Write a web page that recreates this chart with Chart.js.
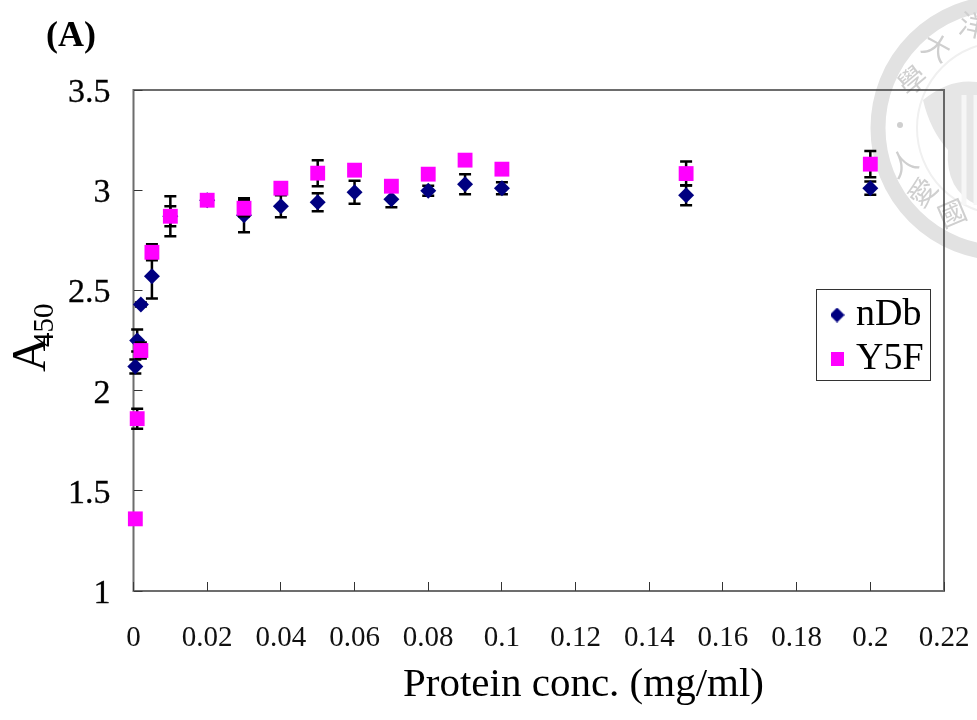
<!DOCTYPE html>
<html lang="en">
<head>
  <meta charset="UTF-8">
  <title>Protein conc. vs A450</title>
  <script src="https://cdn.jsdelivr.net/npm/chart.js"></script>
  <style>
    html, body { margin: 0; padding: 0; background: #fff; }
    canvas { display: block; }
  </style>
</head>
<body>
  <canvas id="chart" width="977" height="720"></canvas>
  <script>
    // values
    const xTicks = [0, 0.02, 0.04, 0.06, 0.08, 0.1, 0.12, 0.14, 0.16, 0.18, 0.2, 0.22];
    const yTicks = [1, 1.5, 2, 2.5, 3, 3.5];
    const conc = [0.0005, 0.001, 0.002, 0.005, 0.01, 0.02, 0.03, 0.04, 0.05, 0.06, 0.07, 0.08, 0.09, 0.1, 0.15, 0.2];
    const nDb = [2.12, 2.25, 2.43, 2.57, 2.87, 2.95, 2.875, 2.92, 2.94, 2.99, 2.955, 2.997, 3.03, 3.01, 2.975, 3.01];
    const nDbErr = [0.035, 0.055, 0.01, 0.11, 0.1, 0.01, 0.085, 0.055, 0.045, 0.057, 0.04, 0.025, 0.05, 0.03, 0.05, 0.033];
    const y5f = [1.36, 1.86, 2.2, 2.69, 2.87, 2.95, 2.91, 3.01, 3.085, 3.1, 3.02, 3.08, 3.15, 3.105, 3.083, 3.13];
    const y5fErr = [0.01, 0.05, 0.04, 0.04, 0.05, 0.01, 0.04, 0.01, 0.065, 0.01, 0.01, 0.01, 0.01, 0.01, 0.06, 0.065];

    const serif = '"Liberation Serif", serif';
    const toPoints = (xs, ys) => xs.map((x, i) => ({ x: x, y: ys[i] }));

    // legend diamond is smaller than chart.js would make it
    const legendDiamond = document.createElement('canvas');
    legendDiamond.width = legendDiamond.height = 15;
    const ld = legendDiamond.getContext('2d');
    ld.fillStyle = '#000080';
    ld.beginPath();
    ld.moveTo(7.5, 0); ld.lineTo(15, 7.5); ld.lineTo(7.5, 15); ld.lineTo(0, 7.5);
    ld.fill();

    // faint university seal behind the chart
    const sealPlugin = {
      id: 'seal',
      beforeDraw(chart) {
        const ctx = chart.ctx;
        const cx = 1003, cy = 128;
        ctx.save();
        ctx.fillStyle = '#fff';
        ctx.fillRect(0, 0, chart.width, chart.height);
        ctx.strokeStyle = '#e2e2e2';
        ctx.lineWidth = 15;
        ctx.beginPath(); ctx.arc(cx, cy, 125, 0, Math.PI * 2); ctx.stroke();
        ctx.strokeStyle = '#f0f0f0';
        ctx.lineWidth = 2;
        ctx.beginPath(); ctx.arc(cx, cy, 86, 0, Math.PI * 2); ctx.stroke();
        ctx.fillStyle = '#e6e6e6';
        ctx.beginPath();
        ctx.moveTo(923, 100);
        ctx.quadraticCurveTo(950, 78, 977, 82);
        ctx.lineTo(977, 205);
        ctx.quadraticCurveTo(945, 190, 948, 150);
        ctx.quadraticCurveTo(930, 130, 923, 100);
        ctx.fill();
        ctx.strokeStyle = '#f6f6f6';
        ctx.lineWidth = 5;
        [964, 976].forEach(x => {
          ctx.beginPath(); ctx.moveTo(x, 95); ctx.lineTo(x, 205); ctx.stroke();
        });
        ctx.fillStyle = '#cfcfcf';
        ctx.beginPath(); ctx.arc(900, 125, 3, 0, Math.PI * 2); ctx.fill();
        ctx.font = '28px "Noto Sans CJK TC"';
        ctx.textAlign = 'center';
        ctx.textBaseline = 'middle';
        [['大', 937, 47, 0.5], ['學', 912, 80, -0.7], ['人', 903, 163, -0.5],
         ['愛', 922, 192, -0.9], ['國', 952, 213, -0.4], ['洋', 973, 25, 0.2]].forEach(c => {
          ctx.save();
          ctx.translate(c[1], c[2]);
          ctx.rotate(c[3]);
          ctx.fillText(c[0], 0, 0);
          ctx.restore();
        });
        ctx.restore();
      }
    };

    // frame, error bars, axis names with their odd placing, panel letter
    const extrasPlugin = {
      id: 'extras',
      afterLayout(chart) {
        const lg = chart.legend;
        lg.left = 831; lg.right = 977; lg.top = 290; lg.bottom = 600;
        lg.width = 146; lg.height = 310;
      },
      beforeDatasetsDraw(chart) {
        const ctx = chart.ctx, a = chart.chartArea;
        ctx.save();
        ctx.strokeStyle = 'rgba(60,60,60,0.75)';
        ctx.lineWidth = 2;
        ctx.strokeRect(a.left, a.top, a.right - a.left, a.bottom - a.top);
        ctx.strokeStyle = '#333';
        ctx.lineWidth = 1;
        ctx.strokeRect(816.5, 289.5, 114, 91);
        ctx.restore();
      },
      beforeDatasetDraw(chart, args) {
        const ds = chart.data.datasets[args.index];
        const ctx = chart.ctx, sx = chart.scales.x, sy = chart.scales.y;
        ctx.save();
        ctx.strokeStyle = '#000';
        ctx.lineWidth = 2.5;
        ds.errors.forEach((e, i) => {
          const x = sx.getPixelForValue(conc[i]);
          const top = sy.getPixelForValue(ds.data[i].y + e);
          const bottom = sy.getPixelForValue(ds.data[i].y - e);
          ctx.beginPath();
          ctx.moveTo(x, top); ctx.lineTo(x, bottom);
          ctx.moveTo(x - 6, top); ctx.lineTo(x + 6, top);
          ctx.moveTo(x - 6, bottom); ctx.lineTo(x + 6, bottom);
          ctx.stroke();
        });
        ctx.restore();
      },
      afterDraw(chart) {
        const ctx = chart.ctx;
        ctx.save();
        ctx.fillStyle = '#000';
        ctx.textBaseline = 'alphabetic';
        ctx.font = 'bold 36px ' + serif;
        ctx.fillText('(A)', 46, 46);
        ctx.font = '41px ' + serif;
        ctx.fillText('Protein conc. (mg/ml)', 403, 696);
        ctx.translate(45, 372);
        ctx.rotate(-Math.PI / 2);
        ctx.font = '48px ' + serif;
        ctx.fillText('A', 0, 0);
        ctx.font = '29px ' + serif;
        ctx.fillText('450', 25, 8);
        ctx.restore();
      }
    };

    new Chart(document.getElementById('chart'), {
      type: 'scatter',
      data: {
        datasets: [
          {
            label: 'nDb',
            data: toPoints(conc, nDb),
            errors: nDbErr,
            pointStyle: 'rectRot',
            pointRadius: 8,
            backgroundColor: '#000080',
            borderWidth: 0,
            clip: false,
            order: 2
          },
          {
            label: 'Y5F',
            data: toPoints(conc, y5f),
            errors: y5fErr,
            pointStyle: 'rect',
            pointRadius: 10.5,
            backgroundColor: '#ff00ff',
            borderWidth: 0,
            clip: false,
            order: 1
          }
        ]
      },
      options: {
        responsive: false,
        animation: false,
        layout: { padding: { top: 90, right: 33, left: 0, bottom: 0 } },
        scales: {
          x: {
            type: 'linear',
            min: 0,
            max: 0.22,
            afterBuildTicks(axis) { axis.ticks = xTicks.map(v => ({ value: v })); },
            afterFit(axis) { axis.height = 129; axis.paddingLeft = 0; axis.paddingRight = 0; },
            grid: { drawOnChartArea: false, tickLength: -9, color: '#333', lineWidth: 1 },
            border: { display: false },
            ticks: {
              padding: 39,
              maxRotation: 0,
              autoSkip: false,
              color: '#111',
              font: { family: serif, size: 29 },
              callback: v => String(v)
            }
          },
          y: {
            min: 1,
            max: 3.5,
            afterBuildTicks(axis) { axis.ticks = yTicks.map(v => ({ value: v })); },
            afterFit(axis) {
              axis.width = 133.5; axis.paddingTop = 0; axis.paddingBottom = 0;
              // labels sit a little below their tick in the original
              if (axis.labelsShifted) return;
              axis.labelsShifted = true;
              const computeItems = axis._computeLabelItems;
              axis._computeLabelItems = function (area) {
                const items = computeItems.call(axis, area);
                items.forEach(it => { it.options.translation[1] += 3; });
                return items;
              };
            },
            grid: { drawOnChartArea: false, tickLength: -9, color: '#333', lineWidth: 1 },
            border: { display: false },
            ticks: {
              padding: 32,
              autoSkip: false,
              color: '#000',
              textStrokeColor: '#000',
              textStrokeWidth: 0.3,
              font: { family: serif, size: 34 },
              callback: v => String(v)
            }
          }
        },
        plugins: {
          tooltip: { enabled: false },
          title: { display: false },
          legend: {
            position: 'chartArea',
            align: 'start',
            labels: {
              usePointStyle: true,
              boxWidth: 0.01,
              boxHeight: 14,
              padding: 6,
              color: '#000',
              font: { family: serif, size: 38 },
              generateLabels(chart) {
                return chart.data.datasets.map((ds, i) => ({
                  text: ds.label,
                  datasetIndex: i,
                  fillStyle: ds.backgroundColor,
                  strokeStyle: ds.backgroundColor,
                  lineWidth: 0,
                  pointStyle: i === 0 ? legendDiamond : 'rect',
                  fontColor: '#000'
                }));
              }
            }
          }
        }
      },
      plugins: [sealPlugin, extrasPlugin]
    });
  </script>
</body>
</html>
